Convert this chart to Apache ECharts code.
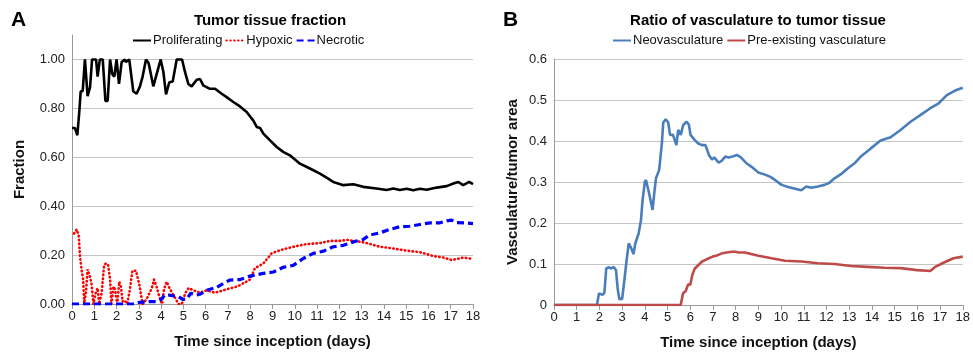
<!DOCTYPE html>
<html>
<head>
<meta charset="utf-8">
<script src="https://cdn.jsdelivr.net/npm/echarts@6/dist/echarts.min.js"></script>
<style>
  html, body { margin: 0; padding: 0; background: #fff; }
  #chart { width: 973px; height: 359px; }
</style>
</head>
<body>
<div id="chart"></div>
<script>
// x = days since inception, y = fraction / ratio
const dayTicks = [0, 1, 2, 3, 4, 5, 6, 7, 8, 9, 10, 11, 12, 13, 14, 15, 16, 17, 18];

// panel A
const proliferating = [
  [0, 0.72], [0.13, 0.72], [0.24, 0.69], [0.33, 0.79], [0.39, 0.87], [0.48, 0.87], [0.58, 1.0], [0.63, 1.0],
  [0.7, 0.85], [0.81, 0.886], [0.9, 1.0], [1.08, 1.0], [1.15, 0.93], [1.25, 1.0], [1.38, 1.0], [1.5, 0.83],
  [1.6, 0.83], [1.71, 1.0], [1.81, 0.94], [1.9, 0.93], [2.0, 1.0], [2.11, 0.9], [2.23, 0.99], [2.37, 1.0],
  [2.42, 0.99], [2.57, 1.0], [2.75, 0.87], [2.9, 0.86], [3.05, 0.89], [3.17, 0.93], [3.32, 1.0], [3.44, 0.985],
  [3.65, 0.89], [3.77, 0.93], [3.98, 1.0], [4.1, 0.95], [4.22, 0.857], [4.37, 0.907], [4.52, 0.91], [4.7, 1.0],
  [4.94, 1.0], [5.07, 0.95], [5.22, 0.9], [5.37, 0.89], [5.6, 0.917], [5.75, 0.92], [5.89, 0.894], [6.19, 0.88],
  [6.42, 0.88], [6.72, 0.86], [6.94, 0.846], [7.24, 0.826], [7.54, 0.808], [7.84, 0.785], [8.14, 0.75],
  [8.29, 0.724], [8.44, 0.72], [8.59, 0.697], [8.89, 0.669], [9.19, 0.642], [9.48, 0.622], [9.78, 0.608],
  [10.23, 0.574], [10.68, 0.554], [11.13, 0.533], [11.5, 0.513], [11.73, 0.499], [12.18, 0.486], [12.63, 0.49],
  [13.07, 0.479], [13.67, 0.472], [14.12, 0.466], [14.42, 0.472], [14.72, 0.466], [15.02, 0.471], [15.32, 0.465],
  [15.62, 0.471], [15.92, 0.467], [16.37, 0.476], [16.82, 0.482], [17.12, 0.493], [17.34, 0.499], [17.56, 0.486],
  [17.83, 0.499], [18, 0.49]
];

const hypoxic = [
  [0.09, 0.288], [0.21, 0.305], [0.3, 0.28], [0.36, 0.193], [0.43, 0.139], [0.5, 0.1], [0.55, 0.003], [0.63, 0.05],
  [0.7, 0.142], [0.81, 0.11], [0.88, 0.08], [0.96, 0.0], [1.06, 0.044], [1.15, 0.065], [1.22, 0.0], [1.33, 0.044],
  [1.44, 0.159], [1.53, 0.166], [1.62, 0.16], [1.71, 0.1], [1.77, 0.0], [1.86, 0.071], [1.93, 0.06], [2.03, 0.0],
  [2.12, 0.091], [2.2, 0.07], [2.27, 0.01], [2.37, 0.015], [2.48, 0.0], [2.6, 0.06], [2.71, 0.136], [2.87, 0.136],
  [3.02, 0.08], [3.17, 0.0], [3.35, 0.02], [3.58, 0.064], [3.68, 0.1], [3.8, 0.07], [3.92, 0.03], [4.04, 0.0],
  [4.13, 0.06], [4.25, 0.091], [4.4, 0.06], [4.63, 0.025], [4.78, 0.0], [4.93, 0.0], [5.08, 0.044], [5.24, 0.066],
  [5.45, 0.056], [5.75, 0.046], [6.04, 0.056], [6.42, 0.046], [6.94, 0.06], [7.46, 0.073], [7.99, 0.1],
  [8.21, 0.146], [8.59, 0.166], [8.96, 0.207], [9.34, 0.22], [9.93, 0.234], [10.53, 0.245], [11.13, 0.249],
  [11.58, 0.258], [12.03, 0.258], [12.33, 0.262], [12.78, 0.257], [13.2, 0.25], [13.82, 0.234], [14.42, 0.227],
  [15.02, 0.218], [15.62, 0.212], [16.22, 0.196], [16.67, 0.19], [17.04, 0.18], [17.34, 0.185], [17.56, 0.19],
  [18, 0.184]
];

const necrotic = [
  [0, 0], [2.8, 0], [2.92, 0.005], [3.35, 0.01], [3.8, 0.01], [4.02, 0.02], [4.17, 0.037], [4.32, 0.037],
  [4.55, 0.033], [4.78, 0.03], [4.97, 0.019], [5.15, 0.02], [5.33, 0.044], [5.6, 0.037], [5.75, 0.04],
  [6.04, 0.056], [6.49, 0.068], [6.79, 0.084], [7.09, 0.098], [7.54, 0.1], [7.99, 0.114], [8.29, 0.12],
  [8.59, 0.125], [9.04, 0.131], [9.48, 0.15], [9.93, 0.158], [10.38, 0.186], [10.83, 0.207], [11.28, 0.216],
  [11.73, 0.234], [12.18, 0.24], [12.63, 0.254], [13.07, 0.264], [13.37, 0.282], [13.82, 0.291], [14.27, 0.305],
  [14.72, 0.316], [15.17, 0.318], [15.62, 0.325], [16.07, 0.332], [16.52, 0.332], [16.82, 0.34], [17.04, 0.343],
  [17.27, 0.333], [17.64, 0.332], [18, 0.329]
];

// panel B
const neovasculature = [
  [0, 0], [1.89, 0], [1.98, 0.028], [2.03, 0.025], [2.15, 0.025], [2.22, 0.03], [2.3, 0.089], [2.42, 0.092],
  [2.52, 0.089], [2.63, 0.093], [2.73, 0.085], [2.81, 0.037], [2.88, 0.014], [3.0, 0.015], [3.1, 0.061],
  [3.2, 0.11], [3.29, 0.15], [3.39, 0.14], [3.5, 0.124], [3.58, 0.15], [3.73, 0.175], [3.83, 0.207], [3.9, 0.256],
  [4.0, 0.3], [4.05, 0.305], [4.19, 0.272], [4.34, 0.232], [4.41, 0.27], [4.49, 0.309], [4.63, 0.329],
  [4.75, 0.394], [4.81, 0.445], [4.92, 0.453], [5.03, 0.445], [5.11, 0.415], [5.24, 0.415], [5.39, 0.39],
  [5.47, 0.427], [5.58, 0.415], [5.69, 0.439], [5.84, 0.447], [5.94, 0.44], [6.01, 0.415], [6.2, 0.402],
  [6.35, 0.394], [6.52, 0.39], [6.67, 0.39], [6.82, 0.366], [6.96, 0.355], [7.06, 0.36], [7.25, 0.347],
  [7.39, 0.352], [7.54, 0.362], [7.69, 0.36], [7.9, 0.363], [8.05, 0.366], [8.23, 0.36], [8.49, 0.345],
  [8.7, 0.337], [9.0, 0.323], [9.29, 0.318], [9.51, 0.313], [9.73, 0.305], [10.02, 0.293], [10.31, 0.288],
  [10.53, 0.285], [10.89, 0.28], [11.11, 0.289], [11.33, 0.286], [11.62, 0.289], [11.91, 0.293], [12.13, 0.298],
  [12.35, 0.309], [12.64, 0.319], [12.93, 0.333], [13.22, 0.345], [13.51, 0.362], [13.95, 0.382], [14.38, 0.401],
  [14.82, 0.409], [15.26, 0.427], [15.7, 0.447], [16.13, 0.463], [16.57, 0.48], [16.94, 0.492], [17.3, 0.512],
  [17.66, 0.523], [18, 0.53]
];

const preExisting = [
  [0, 0], [5.58, 0], [5.68, 0.028], [5.8, 0.034], [5.91, 0.051], [6.0, 0.049], [6.09, 0.073], [6.2, 0.089],
  [6.35, 0.097], [6.52, 0.106], [6.67, 0.11], [6.82, 0.114], [6.99, 0.118], [7.18, 0.121], [7.4, 0.126],
  [7.61, 0.128], [7.83, 0.13], [7.98, 0.13], [8.13, 0.128], [8.41, 0.128], [9.0, 0.12], [9.58, 0.114],
  [10.17, 0.108], [10.89, 0.106], [11.62, 0.102], [12.35, 0.1], [13.08, 0.095], [13.8, 0.093], [14.53, 0.091],
  [15.26, 0.09], [15.99, 0.085], [16.57, 0.083], [16.79, 0.093], [17.15, 0.103], [17.59, 0.114], [18, 0.118]
];

const font = 'Liberation Sans, Arial, sans-serif';
const gridColor = '#c4c4c4';
const axisColor = '#9a9a9a';

function xAxisFor(gridIndex) {
  return {
    type: 'value',
    gridIndex: gridIndex,
    min: 0,
    max: 18,
    interval: 1,
    name: 'Time since inception (days)',
    nameLocation: 'middle',
    nameGap: 30,
    nameTextStyle: { fontFamily: font, fontSize: 15, fontWeight: 'bold', color: '#111' },
    axisLine: { show: true, lineStyle: { color: axisColor, width: 1 } },
    axisTick: { show: true, length: 5, lineStyle: { color: axisColor } },
    axisLabel: {
      margin: 6, fontFamily: font, fontSize: 13, color: '#222',
      formatter: (v) => (dayTicks.indexOf(v) >= 0 ? String(v) : '')
    },
    splitLine: { show: false }
  };
}

const legendBase = {
  top: 34, padding: 0, itemGap: 3, itemWidth: 18, itemHeight: 12,
  itemStyle: { opacity: 0 },
  textStyle: { fontFamily: font, fontSize: 13, color: '#111', padding: [0, 0, 0, -3] }
};

const myChart = echarts.init(document.getElementById('chart'), null, { renderer: 'canvas' });

const option = {
  animation: false,
  backgroundColor: '#fff',
  title: [
    { text: 'A', left: 11, top: 10, padding: 0, textStyle: { fontFamily: font, fontSize: 21, fontWeight: 'bold', color: '#000' } },
    { text: 'Tumor tissue fraction', left: 270, top: 13, padding: 0, textAlign: 'center',
      textStyle: { fontFamily: font, fontSize: 15, fontWeight: 'bold', color: '#000' } },
    { text: 'B', left: 503, top: 10, padding: 0, textStyle: { fontFamily: font, fontSize: 21, fontWeight: 'bold', color: '#000' } },
    { text: 'Ratio of vasculature to tumor tissue', left: 758, top: 13, padding: 0, textAlign: 'center',
      textStyle: { fontFamily: font, fontSize: 15, fontWeight: 'bold', color: '#000' } }
  ],
  legend: [
    Object.assign({}, legendBase, { data: ['Proliferating', 'Hypoxic', 'Necrotic'], left: 132 }),
    Object.assign({}, legendBase, { data: ['Neovasculature', 'Pre-existing vasculature'], left: 612 })
  ],
  grid: [
    { left: 72, right: 500, top: 35, bottom: 55 },
    { left: 554, right: 7, top: 59, bottom: 54 }
  ],
  xAxis: [xAxisFor(0), xAxisFor(1)],
  yAxis: [
    {
      type: 'value', gridIndex: 0, min: 0, max: 1.1, interval: 0.2,
      name: 'Fraction', nameLocation: 'middle', nameGap: 45,
      nameTextStyle: { fontFamily: font, fontSize: 15, fontWeight: 'bold', color: '#111' },
      axisLine: { show: true, lineStyle: { color: axisColor } },
      axisTick: { show: false },
      axisLabel: {
        margin: 7, fontFamily: font, fontSize: 13, color: '#222', showMaxLabel: false,
        formatter: (v) => (v > 1.05 ? '' : v.toFixed(2))
      },
      splitLine: { show: true, showMaxLine: false, lineStyle: { color: gridColor, width: 1 } }
    },
    {
      type: 'value', gridIndex: 1, min: 0, max: 0.6, interval: 0.1,
      name: 'Vasculature/tumor area', nameLocation: 'middle', nameGap: 34,
      nameTextStyle: { fontFamily: font, fontSize: 15, fontWeight: 'bold', color: '#111' },
      axisLine: { show: true, lineStyle: { color: axisColor } },
      axisTick: { show: false },
      axisLabel: {
        margin: 7, fontFamily: font, fontSize: 13, color: '#222',
        formatter: (v) => (v === 0 ? '0' : v.toFixed(1))
      },
      splitLine: { show: true, lineStyle: { color: gridColor, width: 1 } }
    }
  ],
  series: [
    {
      name: 'Proliferating', type: 'line', xAxisIndex: 0, yAxisIndex: 0, data: proliferating,
      showSymbol: false, symbol: 'none', lineStyle: { color: '#000', width: 2.6 }, itemStyle: { color: '#000' }
    },
    {
      name: 'Hypoxic', type: 'line', xAxisIndex: 0, yAxisIndex: 0, data: hypoxic,
      showSymbol: false, symbol: 'none',
      lineStyle: { color: '#ff0000', width: 2.6, type: [0.5, 3.4], cap: 'round' }, itemStyle: { color: '#ff0000' }
    },
    {
      name: 'Necrotic', type: 'line', xAxisIndex: 0, yAxisIndex: 0, data: necrotic,
      showSymbol: false, symbol: 'none',
      lineStyle: { color: '#0000ff', width: 3.2, type: [7, 4] }, itemStyle: { color: '#0000ff' }
    },
    {
      name: 'Neovasculature', type: 'line', xAxisIndex: 1, yAxisIndex: 1, data: neovasculature,
      showSymbol: false, symbol: 'none', lineStyle: { color: '#4a7ebb', width: 2.6 }, itemStyle: { color: '#4a7ebb' }
    },
    {
      name: 'Pre-existing vasculature', type: 'line', xAxisIndex: 1, yAxisIndex: 1, data: preExisting,
      showSymbol: false, symbol: 'none', lineStyle: { color: '#be4b48', width: 2.6 }, itemStyle: { color: '#be4b48' }
    }
  ]
};

option && myChart.setOption(option);
</script>
</body>
</html>
